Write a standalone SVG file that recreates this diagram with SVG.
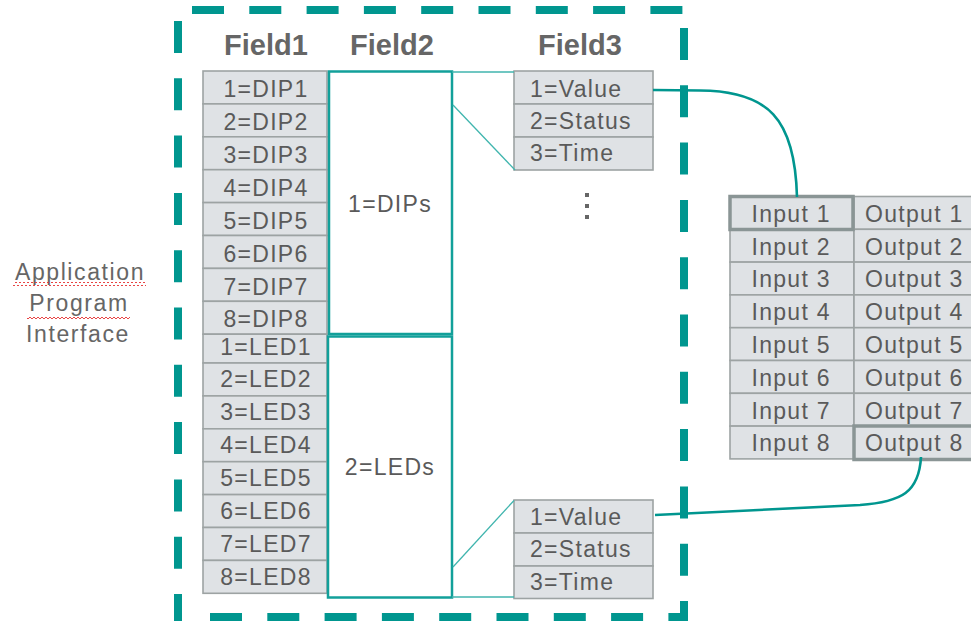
<svg xmlns="http://www.w3.org/2000/svg" width="971" height="621" viewBox="0 0 971 621">
<style>
.cell{fill:#dfe2e5;stroke:#9da3a3;stroke-width:1.6}
.hl{fill:none;stroke:#8a9595;stroke-width:3.5}
.t{font-family:"Liberation Sans",Arial,sans-serif;font-size:23px;fill:#5a5a5a;letter-spacing:1.3px}
.tc{text-anchor:middle}
.hdr{font-family:"Liberation Sans",Arial,sans-serif;font-size:29px;font-weight:bold;fill:#666;text-anchor:middle}
.api{font-family:"Liberation Sans",Arial,sans-serif;font-size:23px;fill:#666;text-anchor:middle;letter-spacing:1.6px}
.dash{stroke:#00968f;stroke-width:8;fill:none;stroke-dasharray:32 25.3}
.box{fill:#fff;stroke:#12a09a;stroke-width:2.5}
.thin{stroke:#40b5ae;stroke-width:1.3;fill:none}
.conn{stroke:#00968f;stroke-width:2.6;fill:none}
</style>
<defs>
<pattern id="squig" width="4" height="4" patternUnits="userSpaceOnUse">
<path d="M0,3 L2,1 L4,3" fill="none" stroke="#e53030" stroke-width="0.9"/>
</pattern>
</defs>
<rect width="971" height="621" fill="#fff"/>

<g id="api-label">
<text class="api" x="80" y="280">Application</text>
<text class="api" x="79" y="311">Program</text>
<text class="api" x="78" y="342">Interface</text>
<rect x="13" y="282" width="133" height="4" fill="url(#squig)"/>
<rect x="27" y="315" width="103" height="4" fill="url(#squig)"/>
</g>

<g id="boundary">
<line class="dash" x1="192" y1="10" x2="684" y2="10"/>
<line class="dash" x1="178" y1="21" x2="178" y2="625"/>
<line class="dash" x1="684" y1="28" x2="684" y2="625"/>
<line class="dash" x1="210" y1="617" x2="688" y2="617"/>
</g>

<g id="headers">
<text class="hdr" x="266" y="55">Field1</text>
<text class="hdr" x="392" y="55">Field2</text>
<text class="hdr" x="580" y="55">Field3</text>
</g>

<g id="field1">
<rect class="cell" x="203" y="71" width="124" height="32.9"/>
<rect class="cell" x="203" y="103.9" width="124" height="32.9"/>
<rect class="cell" x="203" y="136.8" width="124" height="32.9"/>
<rect class="cell" x="203" y="169.7" width="124" height="32.9"/>
<rect class="cell" x="203" y="202.6" width="124" height="32.9"/>
<rect class="cell" x="203" y="235.5" width="124" height="32.9"/>
<rect class="cell" x="203" y="268.4" width="124" height="32.9"/>
<rect class="cell" x="203" y="301.3" width="124" height="32.9"/>
<rect class="cell" x="203" y="334.2" width="124" height="28.8"/>
<rect class="cell" x="203" y="363" width="124" height="32.9"/>
<rect class="cell" x="203" y="395.9" width="124" height="32.9"/>
<rect class="cell" x="203" y="428.8" width="124" height="32.9"/>
<rect class="cell" x="203" y="461.7" width="124" height="32.9"/>
<rect class="cell" x="203" y="494.6" width="124" height="32.9"/>
<rect class="cell" x="203" y="527.5" width="124" height="32.9"/>
<rect class="cell" x="203" y="560.4" width="124" height="32.9"/>
<text class="t tc" x="266" y="97">1=DIP1</text>
<text class="t tc" x="266" y="130">2=DIP2</text>
<text class="t tc" x="266" y="163">3=DIP3</text>
<text class="t tc" x="266" y="196">4=DIP4</text>
<text class="t tc" x="266" y="229">5=DIP5</text>
<text class="t tc" x="266" y="261.5">6=DIP6</text>
<text class="t tc" x="266" y="294.5">7=DIP7</text>
<text class="t tc" x="266" y="327">8=DIP8</text>
<text class="t tc" x="266" y="355">1=LED1</text>
<text class="t tc" x="266" y="387">2=LED2</text>
<text class="t tc" x="266" y="420">3=LED3</text>
<text class="t tc" x="266" y="453">4=LED4</text>
<text class="t tc" x="266" y="486">5=LED5</text>
<text class="t tc" x="266" y="518.5">6=LED6</text>
<text class="t tc" x="266" y="551.5">7=LED7</text>
<text class="t tc" x="266" y="584.5">8=LED8</text>
</g>

<g id="field2-dips">
<rect class="box" x="329" y="71.5" width="123" height="262.5"/>
<text class="t tc" x="390" y="212">1=DIPs</text>
</g>
<g id="field2-leds">
<rect class="box" x="328" y="336.5" width="124" height="261"/>
<text class="t tc" x="390" y="475">2=LEDs</text>
</g>

<g id="field3-dips">
<rect class="cell" x="514" y="71" width="139" height="33"/>
<rect class="cell" x="514" y="104" width="139" height="33"/>
<rect class="cell" x="514" y="137" width="139" height="33"/>
<text class="t" x="530" y="97">1=Value</text>
<text class="t" x="530" y="128.5">2=Status</text>
<text class="t" x="530" y="161">3=Time</text>
</g>

<g id="ellipsis">
<rect x="585" y="193" width="4" height="4" fill="#666"/>
<rect x="585" y="204" width="4" height="4" fill="#666"/>
<rect x="585" y="215" width="4" height="4" fill="#666"/>
</g>

<g id="field3-leds">
<rect class="cell" x="514" y="500" width="139" height="33"/>
<rect class="cell" x="514" y="533" width="139" height="33"/>
<rect class="cell" x="514" y="566" width="139" height="32.5"/>
<text class="t" x="530" y="524.5">1=Value</text>
<text class="t" x="530" y="557">2=Status</text>
<text class="t" x="530" y="589.5">3=Time</text>
</g>

<g id="io-table">
<rect class="cell" x="730" y="196.5" width="124" height="32.8"/>
<rect class="cell" x="730" y="229.3" width="124" height="32.8"/>
<rect class="cell" x="730" y="262.1" width="124" height="32.8"/>
<rect class="cell" x="730" y="294.9" width="124" height="32.8"/>
<rect class="cell" x="730" y="327.7" width="124" height="32.8"/>
<rect class="cell" x="730" y="360.5" width="124" height="32.8"/>
<rect class="cell" x="730" y="393.3" width="124" height="32.8"/>
<rect class="cell" x="730" y="426.1" width="124" height="32.8"/>
<rect class="cell" x="854" y="196.5" width="124" height="32.8"/>
<rect class="cell" x="854" y="229.3" width="124" height="32.8"/>
<rect class="cell" x="854" y="262.1" width="124" height="32.8"/>
<rect class="cell" x="854" y="294.9" width="124" height="32.8"/>
<rect class="cell" x="854" y="327.7" width="124" height="32.8"/>
<rect class="cell" x="854" y="360.5" width="124" height="32.8"/>
<rect class="cell" x="854" y="393.3" width="124" height="32.8"/>
<rect class="cell" x="854" y="426.1" width="124" height="32.8"/>
<rect class="hl" x="730" y="196.5" width="123" height="33"/>
<rect class="hl" x="854" y="426" width="124" height="33.5"/>
<text class="t" x="751.5" y="221.7">Input 1</text>
<text class="t" x="751.5" y="254.5">Input 2</text>
<text class="t" x="751.5" y="287.3">Input 3</text>
<text class="t" x="751.5" y="320.1">Input 4</text>
<text class="t" x="751.5" y="352.9">Input 5</text>
<text class="t" x="751.5" y="385.7">Input 6</text>
<text class="t" x="751.5" y="418.5">Input 7</text>
<text class="t" x="751.5" y="451.3">Input 8</text>
<text class="t" x="865" y="221.7">Output 1</text>
<text class="t" x="865" y="254.5">Output 2</text>
<text class="t" x="865" y="287.3">Output 3</text>
<text class="t" x="865" y="320.1">Output 4</text>
<text class="t" x="865" y="352.9">Output 5</text>
<text class="t" x="865" y="385.7">Output 6</text>
<text class="t" x="865" y="418.5">Output 7</text>
<text class="t" x="865" y="451.3">Output 8</text>
</g>

<g id="connectors">
<line class="thin" x1="452" y1="72" x2="514" y2="72"/>
<line class="thin" x1="453" y1="105" x2="515" y2="170"/>
<line class="thin" x1="453" y1="567" x2="514" y2="500.5"/>
<line class="thin" x1="452" y1="597" x2="514" y2="597"/>
<path class="conn" d="M653,90 L700,90.5 C768,91 795,118 797,197"/>
<path class="conn" d="M655,515 L860,505 C902,502 919,492 921,457"/>
</g>
</svg>
